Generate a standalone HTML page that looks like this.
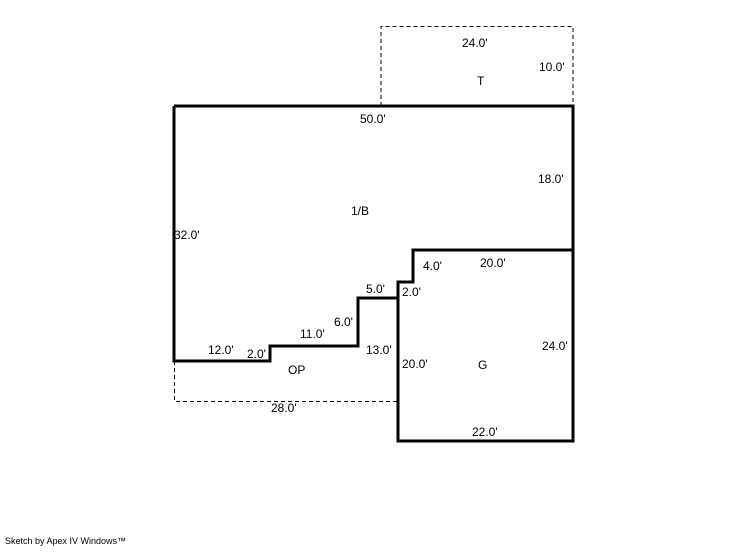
<!DOCTYPE html>
<html><head><style>
body{margin:0;background:#fff;}
svg text{font-family:"Liberation Sans",sans-serif;font-size:12px;fill:#000;}
</style></head><body>
<svg width="746" height="547" viewBox="0 0 746 547">
<g fill="none" stroke="#000" stroke-width="1" stroke-dasharray="4,3">
<polyline points="381,106 381,26.5 573,26.5 573,106"/>
<polyline points="174.5,361 174.5,401.5 398,401.5"/>
</g>
<g fill="none" stroke="#000" stroke-width="3" stroke-linejoin="miter">
<polyline points="174,106 573,106 573,441 398,441 398,282"/>
<polyline points="174,106 174,361 270,361 270,346 358,346 358,298 398,298 398,282 413,282 413,250 573,250"/>
</g>
<text x="462" y="47">24.0'</text>
<text x="539" y="71">10.0'</text>
<text x="477" y="85">T</text>
<text x="360" y="123">50.0'</text>
<text x="538" y="183">18.0'</text>
<text x="351" y="215">1/B</text>
<text x="174" y="239">32.0'</text>
<text x="480" y="267">20.0'</text>
<text x="423" y="270">4.0'</text>
<text x="366" y="293">5.0'</text>
<text x="402" y="296">2.0'</text>
<text x="334" y="326">6.0'</text>
<text x="300" y="338">11.0'</text>
<text x="208" y="354">12.0'</text>
<text x="247" y="358">2.0'</text>
<text x="366" y="354">13.0'</text>
<text x="542" y="350">24.0'</text>
<text x="402" y="368">20.0'</text>
<text x="478" y="369">G</text>
<text x="288" y="374">OP</text>
<text x="271" y="412">28.0'</text>
<text x="472" y="436">22.0'</text>
<text x="5" y="544" style="font-size:9px">Sketch by Apex IV Windows™</text>
</svg>
</body></html>
